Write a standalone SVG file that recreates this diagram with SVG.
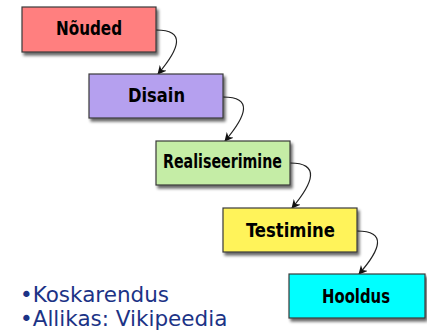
<svg xmlns="http://www.w3.org/2000/svg" width="427" height="331" viewBox="0 0 427 331">
<defs>
<filter id="sh" x="-10%" y="-10%" width="130%" height="140%">
<feGaussianBlur in="SourceAlpha" stdDeviation="1.5"/>
<feOffset dx="2" dy="3" result="b"/>
<feComponentTransfer><feFuncA type="linear" slope="0.6"/></feComponentTransfer>
<feMerge><feMergeNode/><feMergeNode in="SourceGraphic"/></feMerge>
</filter>
<marker id="ah" viewBox="0 0 10 10" refX="9" refY="5" markerWidth="9" markerHeight="9" orient="auto" markerUnits="userSpaceOnUse">
<path d="M0,0 L10,5 L0,10 L3,5 z" fill="#111"/>
</marker>
</defs>
<style>
.box{stroke:#3a3a3a;stroke-width:1.2;filter:url(#sh)}
.lbl{font-family:"DejaVu Sans Condensed","DejaVu Sans",sans-serif;font-stretch:condensed;font-weight:bold;font-size:20px;fill:#000;text-anchor:middle}
.con{fill:none;stroke:#222;stroke-width:1.2;marker-end:url(#ah)}
.note{font-family:"DejaVu Sans",Verdana,sans-serif;font-size:21.5px;fill:#1c3386}
</style>
<rect width="427" height="331" fill="#fff"/>
<g id="connectors">
<path class="con" d="M156,30 C186,30 180,48 158,74"/>
<path class="con" d="M223,97 C253,97 247,115 225,141"/>
<path class="con" d="M290,163 C320,163 314,182 292,208"/>
<path class="con" d="M357,231 C387,231 381,249 359,274"/>
</g>
<g id="n1"><rect class="box" x="22" y="7" width="134" height="45" fill="#ff7f7f"/><text class="lbl" x="89" y="35" textLength="66" lengthAdjust="spacingAndGlyphs">Nõuded</text></g>
<g id="n2"><rect class="box" x="89" y="74" width="134" height="44" fill="#b5a0ef"/><text class="lbl" x="156.5" y="102" textLength="57" lengthAdjust="spacingAndGlyphs">Disain</text></g>
<g id="n3"><rect class="box" x="156" y="141" width="134" height="44" fill="#c5eda6"/><text class="lbl" x="222.5" y="168" textLength="119" lengthAdjust="spacingAndGlyphs">Realiseerimine</text></g>
<g id="n4"><rect class="box" x="223" y="208" width="134" height="44" fill="#fff35a"/><text class="lbl" x="290.5" y="237" textLength="89" lengthAdjust="spacingAndGlyphs">Testimine</text></g>
<g id="n5"><rect class="box" x="289" y="274" width="136" height="44" fill="#00ffff"/><text class="lbl" x="356" y="303" textLength="68" lengthAdjust="spacingAndGlyphs">Hooldus</text></g>
<g id="notes">
<text class="note" x="20" y="302">•Koskarendus</text>
<text class="note" x="20" y="326">•Allikas: Vikipeedia</text>
</g>
</svg>
